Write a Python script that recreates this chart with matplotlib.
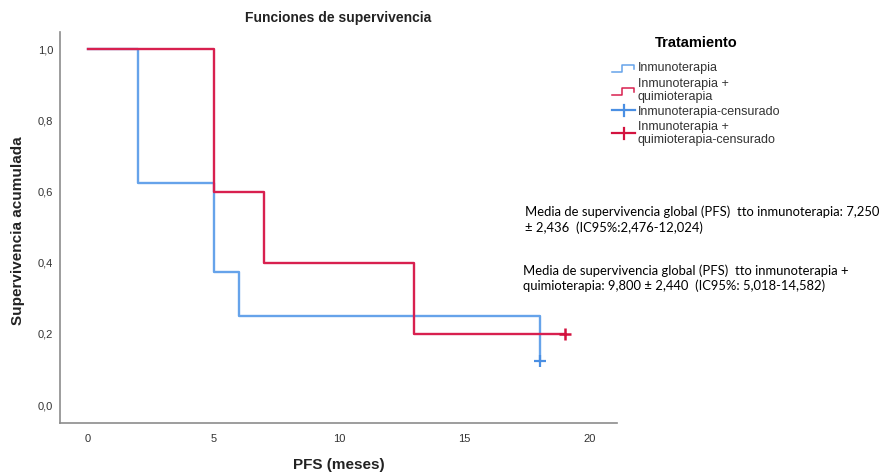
import matplotlib
matplotlib.use("Agg")
import matplotlib.pyplot as plt
from matplotlib.lines import Line2D
from matplotlib.legend_handler import HandlerBase

# ---- data ----
blue_time = [0, 2, 5, 6, 18]
blue_surv = [1.0, 0.625, 0.375, 0.25, 0.125]
red_time = [0, 5, 7, 13, 19]
red_surv = [1.0, 0.6, 0.4, 0.2, 0.2]
blue_cens_time = [18]
blue_cens_surv = [0.125]
red_cens_time = [19]
red_cens_surv = [0.2]
x_ticks = [0, 5, 10, 15, 20]
y_ticks = [0.0, 0.2, 0.4, 0.6, 0.8, 1.0]
legend_labels = ["Inmunoterapia", "Inmunoterapia +\nquimioterapia",
                 "Inmunoterapia-censurado", "Inmunoterapia +\nquimioterapia-censurado"]
note1 = "Media de supervivencia global (PFS)  tto inmunoterapia: 7,250\n\u00b1 2,436  (IC95%:2,476-12,024)"
note2 = "Media de supervivencia global (PFS)  tto inmunoterapia +\nquimioterapia: 9,800 \u00b1 2,440  (IC95%: 5,018-14,582)"

BLUE = "#66a3ea"
RED = "#d8204f"
BLUE_C = "#4a8fe3"
RED_C = "#d3123f"

plt.rcParams['font.family'] = ['Liberation Sans', 'DejaVu Sans']

W, H = 887, 474
fig = plt.figure(figsize=(W / 100, H / 100), dpi=100)
ax = fig.add_axes([60 / W, 1 - 423 / H, (617 - 60) / W, (423 - 32) / H])

ax.step(blue_time, blue_surv, where='post', color=BLUE, lw=1.7)
ax.step(red_time, red_surv, where='post', color=RED, lw=1.7)
ax.plot(blue_cens_time, blue_cens_surv, ls='none', marker='+', ms=8, mew=1.6, color=BLUE_C)
ax.plot(red_cens_time, red_cens_surv, ls='none', marker='+', ms=8, mew=1.8, color=RED_C)

ax.set_xlim(-1.12, 21.08)
ax.set_ylim(-0.05, 1.048)
ax.set_xticks(x_ticks)
ax.set_xticklabels([str(v) for v in x_ticks])
ax.set_yticks(y_ticks)
ax.set_yticklabels([f"{v:.1f}".replace('.', ',') for v in y_ticks])
ax.tick_params(axis='y', length=0, labelsize=8, colors='#333333', pad=5)
ax.tick_params(axis='x', length=0, labelsize=8, colors='#333333', pad=8)
for s in ['top', 'right']:
    ax.spines[s].set_visible(False)
for s in ['left', 'bottom']:
    ax.spines[s].set_color('#8c8c8c')
    ax.spines[s].set_linewidth(1.2)

ax.set_xlabel("PFS (meses)", fontsize=11, fontweight='bold', color='#222222')
ax.set_ylabel("Supervivencia acumulada", fontsize=11, fontweight='bold', color='#222222')
ax.xaxis.set_label_coords((339 - 60) / 557, (423 - 465) / 391)
ax.xaxis.label.set_va('center')
ax.yaxis.set_label_coords((18 - 60) / 557, (423 - 231) / 391)
ax.yaxis.label.set_va('center')
fig.text(338 / W, 1 - 18 / H, "Funciones de supervivencia", ha='center', va='center',
         fontsize=10, fontweight='bold', color='#222222')


class StepHandler(HandlerBase):
    def create_artists(self, legend, orig_handle, xdescent, ydescent, width, height, fontsize, trans):
        x0, x1 = -xdescent, -xdescent + width
        yb, yt = -ydescent + height * 0.0, -ydescent + height * 0.8
        xa = x0 + width * 0.42
        xb = x1 - width * 0.04
        xs = [x0, xa, xa, xb, xb]
        ys = [yb, yb, yt, yt, yb + height * 0.25]
        ln = Line2D(xs, ys, color=orig_handle.get_color(), lw=1.1, transform=trans)
        return [ln]


class CensHandler(HandlerBase):
    def create_artists(self, legend, orig_handle, xdescent, ydescent, width, height, fontsize, trans):
        x0, x1 = -xdescent, -xdescent + width
        ym = -ydescent + height / 2
        xm = (x0 + x1) / 2
        h = Line2D([x0, x1], [ym, ym], color=orig_handle.get_color(), lw=1.6, transform=trans)
        v = Line2D([xm, xm], [ym - height * 0.65, ym + height * 0.65], color=orig_handle.get_color(),
                   lw=1.6, transform=trans)
        return [h, v]


h1 = Line2D([], [], color=BLUE)
h2 = Line2D([], [], color=RED)
h3 = Line2D([], [], color=BLUE_C)
h4 = Line2D([], [], color=RED_C)
leg = fig.legend([h1, h2, h3, h4], legend_labels,
                 handler_map={h1: StepHandler(), h2: StepHandler(), h3: CensHandler(), h4: CensHandler()},
                 loc='upper left', bbox_to_anchor=(602 / W, 1 - 26 / H),
                 frameon=False, fontsize=9, handlelength=1.85, handletextpad=0.2,
                 labelspacing=0.25, title="Tratamiento", borderpad=0.3,
                 title_fontproperties={'weight': 'bold', 'size': 10.5})
leg._legend_box.sep = 9
for t in leg.get_texts():
    t.set_color('#333333')
    t.set_linespacing(1.1)

fig.text(525 / W, 1 - 220 / H, note1, ha='left', va='center', fontsize=9.4,
         family=['Lato', 'DejaVu Sans'], color='black', linespacing=1.3)
fig.text(523 / W, 1 - 278 / H, note2, ha='left', va='center', fontsize=9.4,
         family=['Lato', 'DejaVu Sans'], color='black', linespacing=1.2)

fig.savefig("out.png", dpi=100)
